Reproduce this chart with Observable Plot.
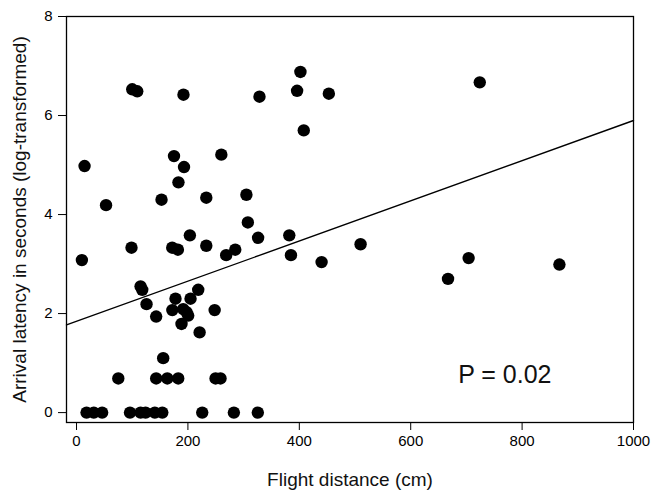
<!DOCTYPE html>
<html>
<head>
<meta charset="utf-8">
<script src="https://cdn.jsdelivr.net/npm/d3@7"></script>
<script src="https://cdn.jsdelivr.net/npm/@observablehq/plot@0.6"></script>
<style>
  html, body { margin: 0; padding: 0; background: #fff; }
  #chart svg { font-family: "Liberation Sans", Arial, sans-serif; }
</style>
</head>
<body>
<div id="chart"></div>
<script>
// Flight distance (cm)
const distance = [
  18, 31, 46, 96, 115, 124, 140.6, 154, 225.7, 282.5, 325.5,
  75, 143, 163, 182.6, 249.6, 258.5,
  155.6, 221, 188.5, 143, 200.5, 197.5, 172, 248, 191.5, 125.7,
  177.7, 204.7, 218.5, 118, 115,
  667, 867, 440, 9.6, 704, 268.7, 385, 182, 285, 98.7, 171.8, 233, 510,
  326, 203.5, 382, 307.6, 53, 152.6, 233, 305, 183, 193, 14.4, 175, 260,
  408, 328.5, 192, 453, 109, 100, 396, 724, 402
];
// Arrival latency in seconds (log-transformed)
const latency = [
  0, 0, 0, 0, 0, 0, 0, 0, 0, 0, 0,
  0.69, 0.69, 0.69, 0.69, 0.69, 0.69,
  1.10, 1.62, 1.79, 1.94, 1.96, 2.03, 2.07, 2.07, 2.09, 2.19,
  2.30, 2.30, 2.48, 2.48, 2.55,
  2.70, 2.99, 3.04, 3.08, 3.12, 3.18, 3.18, 3.29, 3.29, 3.33, 3.33, 3.37, 3.40,
  3.53, 3.58, 3.58, 3.84, 4.19, 4.30, 4.34, 4.40, 4.65, 4.96, 4.98, 5.18, 5.21,
  5.70, 6.38, 6.42, 6.44, 6.49, 6.53, 6.50, 6.67, 6.88
];
// Fitted regression line
const fitIntercept = 1.843;
const fitSlope = 0.004057;
const xDomain = [-18, 1000];
const yDomain = [-0.2, 8];
const xTicks = [0, 200, 400, 600, 800, 1000];
const yTicks = [0, 2, 4, 6, 8];
const xTitle = "Flight distance (cm)";
const yTitle = "Arrival latency in seconds (log-transformed)";
const annotation = "P = 0.02";

const points = distance.map((d, i) => ({x: d, y: latency[i]}));
const fitLine = xDomain.map(x => ({x, y: fitIntercept + fitSlope * x}));

const chart = Plot.plot({
  width: 652,
  height: 490,
  marginLeft: 66,
  marginRight: 19,
  marginTop: 16,
  marginBottom: 68,
  style: {fontFamily: "Liberation Sans, Arial, sans-serif", fontSize: "15px", color: "#000", background: "#fff"},
  x: {domain: xDomain},
  y: {domain: yDomain},
  marks: [
    Plot.axisX({ticks: xTicks, tickSize: 8, tickPadding: 5, tickFormat: d => String(d), label: null, fontSize: 15}),
    Plot.axisY({ticks: yTicks, tickSize: 8, tickPadding: 6, tickFormat: d => String(d), label: null, fontSize: 15}),
    Plot.line(fitLine, {x: "x", y: "y", stroke: "#000", strokeWidth: 1.4}),
    Plot.dot(points, {x: "x", y: "y", r: 6.2, fill: "#000", stroke: "none"}),
    Plot.frame({stroke: "#000", strokeWidth: 1.3}),
    Plot.text([annotation], {text: d => d, frameAnchor: "bottom-right", dx: -82, dy: -48, textAnchor: "end", lineAnchor: "middle", fontSize: 25, fill: "#111"}),
    Plot.text([xTitle], {text: d => d, frameAnchor: "bottom", dy: 57, textAnchor: "middle", lineAnchor: "middle", fontSize: 19, fill: "#111"}),
    Plot.text([yTitle], {text: d => d, frameAnchor: "left", dx: -47, rotate: -90, textAnchor: "middle", lineAnchor: "middle", fontSize: 19, fill: "#111"})
  ]
});
document.getElementById("chart").appendChild(chart);
</script>
</body>
</html>
